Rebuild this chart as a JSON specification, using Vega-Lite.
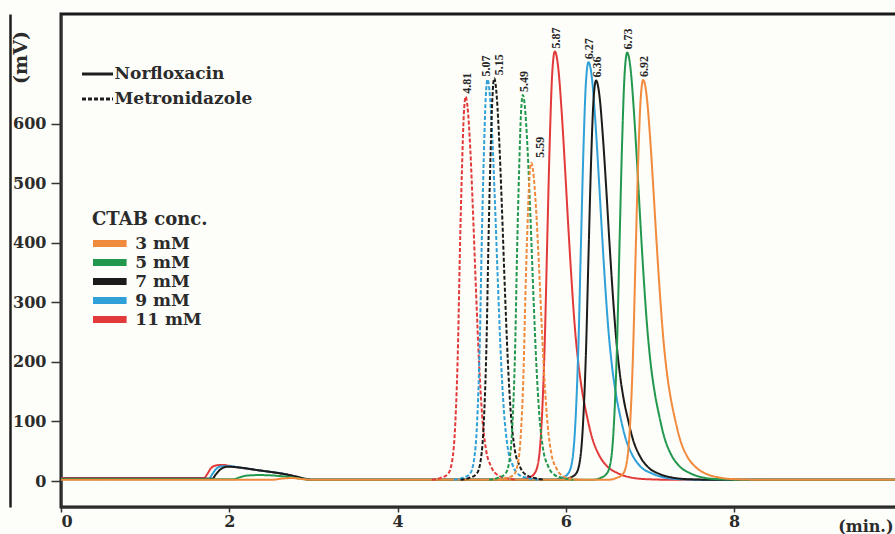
{
  "$schema": "https://vega.github.io/schema/vega-lite/v6.json",
  "width": 836,
  "height": 493,
  "autosize": {"type": "none"},
  "padding": {"left": 61, "top": 14, "right": 0, "bottom": 27},
  "background": "#fdfdf9",
  "datasets": {
    "curves": [
      {"drug": "Norfloxacin", "conc": "11 mM", "t": 0, "mV": 5},
      {"drug": "Norfloxacin", "conc": "11 mM", "t": 1.70, "mV": 5},
      {"drug": "Norfloxacin", "conc": "11 mM", "t": 1.74, "mV": 12},
      {"drug": "Norfloxacin", "conc": "11 mM", "t": 1.78, "mV": 21},
      {"drug": "Norfloxacin", "conc": "11 mM", "t": 1.84, "mV": 26},
      {"drug": "Norfloxacin", "conc": "11 mM", "t": 1.92, "mV": 27},
      {"drug": "Norfloxacin", "conc": "11 mM", "t": 2.05, "mV": 24},
      {"drug": "Norfloxacin", "conc": "11 mM", "t": 2.30, "mV": 19},
      {"drug": "Norfloxacin", "conc": "11 mM", "t": 2.55, "mV": 14},
      {"drug": "Norfloxacin", "conc": "11 mM", "t": 2.72, "mV": 10},
      {"drug": "Norfloxacin", "conc": "11 mM", "t": 2.85, "mV": 5},
      {"drug": "Norfloxacin", "conc": "11 mM", "t": 2.95, "mV": 2},
      {"drug": "Norfloxacin", "conc": "11 mM", "t": 5.45, "mV": 2},
      {"drug": "Norfloxacin", "conc": "11 mM", "t": 5.55, "mV": 5},
      {"drug": "Norfloxacin", "conc": "11 mM", "t": 5.63, "mV": 13},
      {"drug": "Norfloxacin", "conc": "11 mM", "t": 5.68, "mV": 38},
      {"drug": "Norfloxacin", "conc": "11 mM", "t": 5.715, "mV": 103},
      {"drug": "Norfloxacin", "conc": "11 mM", "t": 5.75, "mV": 233},
      {"drug": "Norfloxacin", "conc": "11 mM", "t": 5.78, "mV": 406},
      {"drug": "Norfloxacin", "conc": "11 mM", "t": 5.81, "mV": 572},
      {"drug": "Norfloxacin", "conc": "11 mM", "t": 5.84, "mV": 687},
      {"drug": "Norfloxacin", "conc": "11 mM", "t": 5.87, "mV": 721},
      {"drug": "Norfloxacin", "conc": "11 mM", "t": 5.91, "mV": 694},
      {"drug": "Norfloxacin", "conc": "11 mM", "t": 5.95, "mV": 622},
      {"drug": "Norfloxacin", "conc": "11 mM", "t": 5.99, "mV": 528},
      {"drug": "Norfloxacin", "conc": "11 mM", "t": 6.03, "mV": 427},
      {"drug": "Norfloxacin", "conc": "11 mM", "t": 6.07, "mV": 334},
      {"drug": "Norfloxacin", "conc": "11 mM", "t": 6.11, "mV": 254},
      {"drug": "Norfloxacin", "conc": "11 mM", "t": 6.15, "mV": 197},
      {"drug": "Norfloxacin", "conc": "11 mM", "t": 6.20, "mV": 146},
      {"drug": "Norfloxacin", "conc": "11 mM", "t": 6.25, "mV": 110},
      {"drug": "Norfloxacin", "conc": "11 mM", "t": 6.31, "mV": 74},
      {"drug": "Norfloxacin", "conc": "11 mM", "t": 6.39, "mV": 45},
      {"drug": "Norfloxacin", "conc": "11 mM", "t": 6.49, "mV": 25},
      {"drug": "Norfloxacin", "conc": "11 mM", "t": 6.62, "mV": 13},
      {"drug": "Norfloxacin", "conc": "11 mM", "t": 6.77, "mV": 6},
      {"drug": "Norfloxacin", "conc": "11 mM", "t": 6.97, "mV": 3},
      {"drug": "Norfloxacin", "conc": "11 mM", "t": 7.30, "mV": 2},
      {"drug": "Norfloxacin", "conc": "11 mM", "t": 9.94, "mV": 2},

      {"drug": "Norfloxacin", "conc": "9 mM", "t": 0, "mV": 4},
      {"drug": "Norfloxacin", "conc": "9 mM", "t": 1.76, "mV": 4},
      {"drug": "Norfloxacin", "conc": "9 mM", "t": 1.80, "mV": 12},
      {"drug": "Norfloxacin", "conc": "9 mM", "t": 1.85, "mV": 21},
      {"drug": "Norfloxacin", "conc": "9 mM", "t": 1.92, "mV": 25},
      {"drug": "Norfloxacin", "conc": "9 mM", "t": 2.00, "mV": 25},
      {"drug": "Norfloxacin", "conc": "9 mM", "t": 2.15, "mV": 22},
      {"drug": "Norfloxacin", "conc": "9 mM", "t": 2.40, "mV": 17},
      {"drug": "Norfloxacin", "conc": "9 mM", "t": 2.65, "mV": 12},
      {"drug": "Norfloxacin", "conc": "9 mM", "t": 2.80, "mV": 7},
      {"drug": "Norfloxacin", "conc": "9 mM", "t": 2.92, "mV": 3},
      {"drug": "Norfloxacin", "conc": "9 mM", "t": 3.05, "mV": 2},
      {"drug": "Norfloxacin", "conc": "9 mM", "t": 5.85, "mV": 2},
      {"drug": "Norfloxacin", "conc": "9 mM", "t": 5.95, "mV": 5},
      {"drug": "Norfloxacin", "conc": "9 mM", "t": 6.03, "mV": 13},
      {"drug": "Norfloxacin", "conc": "9 mM", "t": 6.08, "mV": 37},
      {"drug": "Norfloxacin", "conc": "9 mM", "t": 6.115, "mV": 100},
      {"drug": "Norfloxacin", "conc": "9 mM", "t": 6.15, "mV": 227},
      {"drug": "Norfloxacin", "conc": "9 mM", "t": 6.18, "mV": 396},
      {"drug": "Norfloxacin", "conc": "9 mM", "t": 6.21, "mV": 557},
      {"drug": "Norfloxacin", "conc": "9 mM", "t": 6.24, "mV": 670},
      {"drug": "Norfloxacin", "conc": "9 mM", "t": 6.27, "mV": 703},
      {"drug": "Norfloxacin", "conc": "9 mM", "t": 6.31, "mV": 677},
      {"drug": "Norfloxacin", "conc": "9 mM", "t": 6.35, "mV": 607},
      {"drug": "Norfloxacin", "conc": "9 mM", "t": 6.39, "mV": 515},
      {"drug": "Norfloxacin", "conc": "9 mM", "t": 6.43, "mV": 417},
      {"drug": "Norfloxacin", "conc": "9 mM", "t": 6.47, "mV": 325},
      {"drug": "Norfloxacin", "conc": "9 mM", "t": 6.51, "mV": 248},
      {"drug": "Norfloxacin", "conc": "9 mM", "t": 6.55, "mV": 192},
      {"drug": "Norfloxacin", "conc": "9 mM", "t": 6.60, "mV": 143},
      {"drug": "Norfloxacin", "conc": "9 mM", "t": 6.65, "mV": 107},
      {"drug": "Norfloxacin", "conc": "9 mM", "t": 6.71, "mV": 72},
      {"drug": "Norfloxacin", "conc": "9 mM", "t": 6.79, "mV": 44},
      {"drug": "Norfloxacin", "conc": "9 mM", "t": 6.89, "mV": 24},
      {"drug": "Norfloxacin", "conc": "9 mM", "t": 7.02, "mV": 13},
      {"drug": "Norfloxacin", "conc": "9 mM", "t": 7.17, "mV": 6},
      {"drug": "Norfloxacin", "conc": "9 mM", "t": 7.37, "mV": 3},
      {"drug": "Norfloxacin", "conc": "9 mM", "t": 7.70, "mV": 2},
      {"drug": "Norfloxacin", "conc": "9 mM", "t": 9.94, "mV": 2},

      {"drug": "Norfloxacin", "conc": "7 mM", "t": 0, "mV": 4},
      {"drug": "Norfloxacin", "conc": "7 mM", "t": 1.80, "mV": 4},
      {"drug": "Norfloxacin", "conc": "7 mM", "t": 1.84, "mV": 11},
      {"drug": "Norfloxacin", "conc": "7 mM", "t": 1.90, "mV": 20},
      {"drug": "Norfloxacin", "conc": "7 mM", "t": 1.98, "mV": 24},
      {"drug": "Norfloxacin", "conc": "7 mM", "t": 2.10, "mV": 23},
      {"drug": "Norfloxacin", "conc": "7 mM", "t": 2.35, "mV": 18},
      {"drug": "Norfloxacin", "conc": "7 mM", "t": 2.60, "mV": 13},
      {"drug": "Norfloxacin", "conc": "7 mM", "t": 2.78, "mV": 8},
      {"drug": "Norfloxacin", "conc": "7 mM", "t": 2.90, "mV": 4},
      {"drug": "Norfloxacin", "conc": "7 mM", "t": 3.00, "mV": 2},
      {"drug": "Norfloxacin", "conc": "7 mM", "t": 5.94, "mV": 2},
      {"drug": "Norfloxacin", "conc": "7 mM", "t": 6.04, "mV": 5},
      {"drug": "Norfloxacin", "conc": "7 mM", "t": 6.12, "mV": 12},
      {"drug": "Norfloxacin", "conc": "7 mM", "t": 6.17, "mV": 36},
      {"drug": "Norfloxacin", "conc": "7 mM", "t": 6.205, "mV": 96},
      {"drug": "Norfloxacin", "conc": "7 mM", "t": 6.24, "mV": 217},
      {"drug": "Norfloxacin", "conc": "7 mM", "t": 6.27, "mV": 378},
      {"drug": "Norfloxacin", "conc": "7 mM", "t": 6.30, "mV": 533},
      {"drug": "Norfloxacin", "conc": "7 mM", "t": 6.33, "mV": 640},
      {"drug": "Norfloxacin", "conc": "7 mM", "t": 6.36, "mV": 672},
      {"drug": "Norfloxacin", "conc": "7 mM", "t": 6.40, "mV": 647},
      {"drug": "Norfloxacin", "conc": "7 mM", "t": 6.44, "mV": 580},
      {"drug": "Norfloxacin", "conc": "7 mM", "t": 6.48, "mV": 493},
      {"drug": "Norfloxacin", "conc": "7 mM", "t": 6.52, "mV": 398},
      {"drug": "Norfloxacin", "conc": "7 mM", "t": 6.56, "mV": 311},
      {"drug": "Norfloxacin", "conc": "7 mM", "t": 6.60, "mV": 237},
      {"drug": "Norfloxacin", "conc": "7 mM", "t": 6.64, "mV": 183},
      {"drug": "Norfloxacin", "conc": "7 mM", "t": 6.69, "mV": 136},
      {"drug": "Norfloxacin", "conc": "7 mM", "t": 6.74, "mV": 103},
      {"drug": "Norfloxacin", "conc": "7 mM", "t": 6.80, "mV": 69},
      {"drug": "Norfloxacin", "conc": "7 mM", "t": 6.88, "mV": 42},
      {"drug": "Norfloxacin", "conc": "7 mM", "t": 6.98, "mV": 23},
      {"drug": "Norfloxacin", "conc": "7 mM", "t": 7.11, "mV": 12},
      {"drug": "Norfloxacin", "conc": "7 mM", "t": 7.26, "mV": 6},
      {"drug": "Norfloxacin", "conc": "7 mM", "t": 7.46, "mV": 3},
      {"drug": "Norfloxacin", "conc": "7 mM", "t": 7.80, "mV": 2},
      {"drug": "Norfloxacin", "conc": "7 mM", "t": 9.94, "mV": 2},

      {"drug": "Norfloxacin", "conc": "5 mM", "t": 0, "mV": 3},
      {"drug": "Norfloxacin", "conc": "5 mM", "t": 2.05, "mV": 3},
      {"drug": "Norfloxacin", "conc": "5 mM", "t": 2.12, "mV": 6},
      {"drug": "Norfloxacin", "conc": "5 mM", "t": 2.20, "mV": 9},
      {"drug": "Norfloxacin", "conc": "5 mM", "t": 2.35, "mV": 10},
      {"drug": "Norfloxacin", "conc": "5 mM", "t": 2.55, "mV": 9},
      {"drug": "Norfloxacin", "conc": "5 mM", "t": 2.75, "mV": 6},
      {"drug": "Norfloxacin", "conc": "5 mM", "t": 2.90, "mV": 3},
      {"drug": "Norfloxacin", "conc": "5 mM", "t": 3.00, "mV": 2},
      {"drug": "Norfloxacin", "conc": "5 mM", "t": 6.31, "mV": 2},
      {"drug": "Norfloxacin", "conc": "5 mM", "t": 6.41, "mV": 5},
      {"drug": "Norfloxacin", "conc": "5 mM", "t": 6.49, "mV": 13},
      {"drug": "Norfloxacin", "conc": "5 mM", "t": 6.54, "mV": 38},
      {"drug": "Norfloxacin", "conc": "5 mM", "t": 6.575, "mV": 103},
      {"drug": "Norfloxacin", "conc": "5 mM", "t": 6.61, "mV": 232},
      {"drug": "Norfloxacin", "conc": "5 mM", "t": 6.64, "mV": 405},
      {"drug": "Norfloxacin", "conc": "5 mM", "t": 6.67, "mV": 570},
      {"drug": "Norfloxacin", "conc": "5 mM", "t": 6.70, "mV": 685},
      {"drug": "Norfloxacin", "conc": "5 mM", "t": 6.73, "mV": 719},
      {"drug": "Norfloxacin", "conc": "5 mM", "t": 6.77, "mV": 692},
      {"drug": "Norfloxacin", "conc": "5 mM", "t": 6.81, "mV": 620},
      {"drug": "Norfloxacin", "conc": "5 mM", "t": 6.85, "mV": 527},
      {"drug": "Norfloxacin", "conc": "5 mM", "t": 6.89, "mV": 426},
      {"drug": "Norfloxacin", "conc": "5 mM", "t": 6.93, "mV": 333},
      {"drug": "Norfloxacin", "conc": "5 mM", "t": 6.97, "mV": 254},
      {"drug": "Norfloxacin", "conc": "5 mM", "t": 7.01, "mV": 196},
      {"drug": "Norfloxacin", "conc": "5 mM", "t": 7.06, "mV": 146},
      {"drug": "Norfloxacin", "conc": "5 mM", "t": 7.11, "mV": 110},
      {"drug": "Norfloxacin", "conc": "5 mM", "t": 7.17, "mV": 74},
      {"drug": "Norfloxacin", "conc": "5 mM", "t": 7.25, "mV": 45},
      {"drug": "Norfloxacin", "conc": "5 mM", "t": 7.35, "mV": 25},
      {"drug": "Norfloxacin", "conc": "5 mM", "t": 7.48, "mV": 13},
      {"drug": "Norfloxacin", "conc": "5 mM", "t": 7.63, "mV": 6},
      {"drug": "Norfloxacin", "conc": "5 mM", "t": 7.83, "mV": 3},
      {"drug": "Norfloxacin", "conc": "5 mM", "t": 8.20, "mV": 2},
      {"drug": "Norfloxacin", "conc": "5 mM", "t": 9.94, "mV": 2},

      {"drug": "Norfloxacin", "conc": "3 mM", "t": 0, "mV": 2},
      {"drug": "Norfloxacin", "conc": "3 mM", "t": 2.50, "mV": 2},
      {"drug": "Norfloxacin", "conc": "3 mM", "t": 2.62, "mV": 4},
      {"drug": "Norfloxacin", "conc": "3 mM", "t": 2.75, "mV": 5},
      {"drug": "Norfloxacin", "conc": "3 mM", "t": 2.88, "mV": 3},
      {"drug": "Norfloxacin", "conc": "3 mM", "t": 3.00, "mV": 2},
      {"drug": "Norfloxacin", "conc": "3 mM", "t": 6.50, "mV": 2},
      {"drug": "Norfloxacin", "conc": "3 mM", "t": 6.60, "mV": 5},
      {"drug": "Norfloxacin", "conc": "3 mM", "t": 6.68, "mV": 12},
      {"drug": "Norfloxacin", "conc": "3 mM", "t": 6.73, "mV": 36},
      {"drug": "Norfloxacin", "conc": "3 mM", "t": 6.765, "mV": 96},
      {"drug": "Norfloxacin", "conc": "3 mM", "t": 6.80, "mV": 217},
      {"drug": "Norfloxacin", "conc": "3 mM", "t": 6.83, "mV": 379},
      {"drug": "Norfloxacin", "conc": "3 mM", "t": 6.86, "mV": 534},
      {"drug": "Norfloxacin", "conc": "3 mM", "t": 6.89, "mV": 641},
      {"drug": "Norfloxacin", "conc": "3 mM", "t": 6.92, "mV": 673},
      {"drug": "Norfloxacin", "conc": "3 mM", "t": 6.96, "mV": 648},
      {"drug": "Norfloxacin", "conc": "3 mM", "t": 7.00, "mV": 581},
      {"drug": "Norfloxacin", "conc": "3 mM", "t": 7.04, "mV": 493},
      {"drug": "Norfloxacin", "conc": "3 mM", "t": 7.08, "mV": 399},
      {"drug": "Norfloxacin", "conc": "3 mM", "t": 7.12, "mV": 312},
      {"drug": "Norfloxacin", "conc": "3 mM", "t": 7.16, "mV": 238},
      {"drug": "Norfloxacin", "conc": "3 mM", "t": 7.20, "mV": 184},
      {"drug": "Norfloxacin", "conc": "3 mM", "t": 7.25, "mV": 137},
      {"drug": "Norfloxacin", "conc": "3 mM", "t": 7.30, "mV": 103},
      {"drug": "Norfloxacin", "conc": "3 mM", "t": 7.36, "mV": 69},
      {"drug": "Norfloxacin", "conc": "3 mM", "t": 7.44, "mV": 42},
      {"drug": "Norfloxacin", "conc": "3 mM", "t": 7.54, "mV": 24},
      {"drug": "Norfloxacin", "conc": "3 mM", "t": 7.67, "mV": 12},
      {"drug": "Norfloxacin", "conc": "3 mM", "t": 7.82, "mV": 6},
      {"drug": "Norfloxacin", "conc": "3 mM", "t": 8.02, "mV": 3},
      {"drug": "Norfloxacin", "conc": "3 mM", "t": 8.40, "mV": 2},
      {"drug": "Norfloxacin", "conc": "3 mM", "t": 9.94, "mV": 2},

      {"drug": "Metronidazole", "conc": "11 mM", "t": 4.41, "mV": 2},
      {"drug": "Metronidazole", "conc": "11 mM", "t": 4.51, "mV": 5},
      {"drug": "Metronidazole", "conc": "11 mM", "t": 4.60, "mV": 12},
      {"drug": "Metronidazole", "conc": "11 mM", "t": 4.65, "mV": 34},
      {"drug": "Metronidazole", "conc": "11 mM", "t": 4.685, "mV": 92},
      {"drug": "Metronidazole", "conc": "11 mM", "t": 4.72, "mV": 234},
      {"drug": "Metronidazole", "conc": "11 mM", "t": 4.74, "mV": 376},
      {"drug": "Metronidazole", "conc": "11 mM", "t": 4.765, "mV": 518},
      {"drug": "Metronidazole", "conc": "11 mM", "t": 4.788, "mV": 615},
      {"drug": "Metronidazole", "conc": "11 mM", "t": 4.81, "mV": 645},
      {"drug": "Metronidazole", "conc": "11 mM", "t": 4.832, "mV": 628},
      {"drug": "Metronidazole", "conc": "11 mM", "t": 4.865, "mV": 557},
      {"drug": "Metronidazole", "conc": "11 mM", "t": 4.90, "mV": 441},
      {"drug": "Metronidazole", "conc": "11 mM", "t": 4.935, "mV": 312},
      {"drug": "Metronidazole", "conc": "11 mM", "t": 4.97, "mV": 196},
      {"drug": "Metronidazole", "conc": "11 mM", "t": 5.005, "mV": 112},
      {"drug": "Metronidazole", "conc": "11 mM", "t": 5.05, "mV": 54},
      {"drug": "Metronidazole", "conc": "11 mM", "t": 5.11, "mV": 25},
      {"drug": "Metronidazole", "conc": "11 mM", "t": 5.19, "mV": 10},
      {"drug": "Metronidazole", "conc": "11 mM", "t": 5.29, "mV": 5},
      {"drug": "Metronidazole", "conc": "11 mM", "t": 5.41, "mV": 2},

      {"drug": "Metronidazole", "conc": "9 mM", "t": 4.67, "mV": 2},
      {"drug": "Metronidazole", "conc": "9 mM", "t": 4.77, "mV": 5},
      {"drug": "Metronidazole", "conc": "9 mM", "t": 4.86, "mV": 12},
      {"drug": "Metronidazole", "conc": "9 mM", "t": 4.91, "mV": 36},
      {"drug": "Metronidazole", "conc": "9 mM", "t": 4.945, "mV": 96},
      {"drug": "Metronidazole", "conc": "9 mM", "t": 4.98, "mV": 245},
      {"drug": "Metronidazole", "conc": "9 mM", "t": 5.00, "mV": 393},
      {"drug": "Metronidazole", "conc": "9 mM", "t": 5.025, "mV": 541},
      {"drug": "Metronidazole", "conc": "9 mM", "t": 5.048, "mV": 642},
      {"drug": "Metronidazole", "conc": "9 mM", "t": 5.07, "mV": 674},
      {"drug": "Metronidazole", "conc": "9 mM", "t": 5.092, "mV": 656},
      {"drug": "Metronidazole", "conc": "9 mM", "t": 5.125, "mV": 582},
      {"drug": "Metronidazole", "conc": "9 mM", "t": 5.16, "mV": 460},
      {"drug": "Metronidazole", "conc": "9 mM", "t": 5.195, "mV": 326},
      {"drug": "Metronidazole", "conc": "9 mM", "t": 5.23, "mV": 204},
      {"drug": "Metronidazole", "conc": "9 mM", "t": 5.265, "mV": 117},
      {"drug": "Metronidazole", "conc": "9 mM", "t": 5.31, "mV": 56},
      {"drug": "Metronidazole", "conc": "9 mM", "t": 5.37, "mV": 26},
      {"drug": "Metronidazole", "conc": "9 mM", "t": 5.45, "mV": 10},
      {"drug": "Metronidazole", "conc": "9 mM", "t": 5.55, "mV": 5},
      {"drug": "Metronidazole", "conc": "9 mM", "t": 5.67, "mV": 2},

      {"drug": "Metronidazole", "conc": "7 mM", "t": 4.75, "mV": 2},
      {"drug": "Metronidazole", "conc": "7 mM", "t": 4.85, "mV": 5},
      {"drug": "Metronidazole", "conc": "7 mM", "t": 4.94, "mV": 12},
      {"drug": "Metronidazole", "conc": "7 mM", "t": 4.99, "mV": 36},
      {"drug": "Metronidazole", "conc": "7 mM", "t": 5.025, "mV": 97},
      {"drug": "Metronidazole", "conc": "7 mM", "t": 5.06, "mV": 245},
      {"drug": "Metronidazole", "conc": "7 mM", "t": 5.08, "mV": 394},
      {"drug": "Metronidazole", "conc": "7 mM", "t": 5.105, "mV": 543},
      {"drug": "Metronidazole", "conc": "7 mM", "t": 5.128, "mV": 644},
      {"drug": "Metronidazole", "conc": "7 mM", "t": 5.15, "mV": 676},
      {"drug": "Metronidazole", "conc": "7 mM", "t": 5.172, "mV": 658},
      {"drug": "Metronidazole", "conc": "7 mM", "t": 5.205, "mV": 583},
      {"drug": "Metronidazole", "conc": "7 mM", "t": 5.24, "mV": 462},
      {"drug": "Metronidazole", "conc": "7 mM", "t": 5.275, "mV": 326},
      {"drug": "Metronidazole", "conc": "7 mM", "t": 5.31, "mV": 205},
      {"drug": "Metronidazole", "conc": "7 mM", "t": 5.345, "mV": 117},
      {"drug": "Metronidazole", "conc": "7 mM", "t": 5.39, "mV": 56},
      {"drug": "Metronidazole", "conc": "7 mM", "t": 5.45, "mV": 26},
      {"drug": "Metronidazole", "conc": "7 mM", "t": 5.53, "mV": 10},
      {"drug": "Metronidazole", "conc": "7 mM", "t": 5.63, "mV": 5},
      {"drug": "Metronidazole", "conc": "7 mM", "t": 5.75, "mV": 2},

      {"drug": "Metronidazole", "conc": "5 mM", "t": 5.09, "mV": 2},
      {"drug": "Metronidazole", "conc": "5 mM", "t": 5.19, "mV": 5},
      {"drug": "Metronidazole", "conc": "5 mM", "t": 5.28, "mV": 12},
      {"drug": "Metronidazole", "conc": "5 mM", "t": 5.33, "mV": 34},
      {"drug": "Metronidazole", "conc": "5 mM", "t": 5.365, "mV": 93},
      {"drug": "Metronidazole", "conc": "5 mM", "t": 5.40, "mV": 235},
      {"drug": "Metronidazole", "conc": "5 mM", "t": 5.42, "mV": 378},
      {"drug": "Metronidazole", "conc": "5 mM", "t": 5.445, "mV": 520},
      {"drug": "Metronidazole", "conc": "5 mM", "t": 5.468, "mV": 618},
      {"drug": "Metronidazole", "conc": "5 mM", "t": 5.49, "mV": 648},
      {"drug": "Metronidazole", "conc": "5 mM", "t": 5.512, "mV": 631},
      {"drug": "Metronidazole", "conc": "5 mM", "t": 5.545, "mV": 559},
      {"drug": "Metronidazole", "conc": "5 mM", "t": 5.58, "mV": 443},
      {"drug": "Metronidazole", "conc": "5 mM", "t": 5.615, "mV": 313},
      {"drug": "Metronidazole", "conc": "5 mM", "t": 5.65, "mV": 196},
      {"drug": "Metronidazole", "conc": "5 mM", "t": 5.685, "mV": 112},
      {"drug": "Metronidazole", "conc": "5 mM", "t": 5.73, "mV": 54},
      {"drug": "Metronidazole", "conc": "5 mM", "t": 5.79, "mV": 25},
      {"drug": "Metronidazole", "conc": "5 mM", "t": 5.87, "mV": 10},
      {"drug": "Metronidazole", "conc": "5 mM", "t": 5.97, "mV": 5},
      {"drug": "Metronidazole", "conc": "5 mM", "t": 6.09, "mV": 2},

      {"drug": "Metronidazole", "conc": "3 mM", "t": 5.19, "mV": 2},
      {"drug": "Metronidazole", "conc": "3 mM", "t": 5.29, "mV": 5},
      {"drug": "Metronidazole", "conc": "3 mM", "t": 5.38, "mV": 10},
      {"drug": "Metronidazole", "conc": "3 mM", "t": 5.43, "mV": 29},
      {"drug": "Metronidazole", "conc": "3 mM", "t": 5.465, "mV": 77},
      {"drug": "Metronidazole", "conc": "3 mM", "t": 5.50, "mV": 194},
      {"drug": "Metronidazole", "conc": "3 mM", "t": 5.52, "mV": 312},
      {"drug": "Metronidazole", "conc": "3 mM", "t": 5.545, "mV": 429},
      {"drug": "Metronidazole", "conc": "3 mM", "t": 5.568, "mV": 509},
      {"drug": "Metronidazole", "conc": "3 mM", "t": 5.59, "mV": 534},
      {"drug": "Metronidazole", "conc": "3 mM", "t": 5.612, "mV": 520},
      {"drug": "Metronidazole", "conc": "3 mM", "t": 5.645, "mV": 461},
      {"drug": "Metronidazole", "conc": "3 mM", "t": 5.68, "mV": 365},
      {"drug": "Metronidazole", "conc": "3 mM", "t": 5.715, "mV": 258},
      {"drug": "Metronidazole", "conc": "3 mM", "t": 5.75, "mV": 162},
      {"drug": "Metronidazole", "conc": "3 mM", "t": 5.785, "mV": 93},
      {"drug": "Metronidazole", "conc": "3 mM", "t": 5.83, "mV": 45},
      {"drug": "Metronidazole", "conc": "3 mM", "t": 5.89, "mV": 21},
      {"drug": "Metronidazole", "conc": "3 mM", "t": 5.97, "mV": 8},
      {"drug": "Metronidazole", "conc": "3 mM", "t": 6.07, "mV": 4},
      {"drug": "Metronidazole", "conc": "3 mM", "t": 6.19, "mV": 2}
    ],
    "peaks": [
      {"drug": "Metronidazole", "conc": "11 mM", "t": 4.81, "mV": 645},
      {"drug": "Metronidazole", "conc": "9 mM", "t": 5.07, "mV": 674},
      {"drug": "Metronidazole", "conc": "7 mM", "t": 5.15, "mV": 676},
      {"drug": "Metronidazole", "conc": "5 mM", "t": 5.49, "mV": 648},
      {"drug": "Metronidazole", "conc": "3 mM", "t": 5.59, "mV": 534},
      {"drug": "Norfloxacin", "conc": "11 mM", "t": 5.87, "mV": 721},
      {"drug": "Norfloxacin", "conc": "9 mM", "t": 6.27, "mV": 703},
      {"drug": "Norfloxacin", "conc": "7 mM", "t": 6.36, "mV": 672},
      {"drug": "Norfloxacin", "conc": "5 mM", "t": 6.73, "mV": 719},
      {"drug": "Norfloxacin", "conc": "3 mM", "t": 6.92, "mV": 673}
    ]
  },
  "encoding": {
    "x": {
      "field": "t",
      "type": "quantitative",
      "scale": {"domain": [0, 9.937], "nice": false, "zero": false},
      "axis": {
        "values": [0, 2, 4, 6, 8],
        "tickSize": 5,
        "labelPadding": 1,
        "title": "(min.)",
        "titleX": 832,
        "titleY": 24,
        "titleAlign": "right",
        "titleAnchor": null,
        "titleBaseline": "alphabetic",
        "titleFontSize": 16
      }
    },
    "y": {
      "field": "mV",
      "type": "quantitative",
      "scale": {"domain": [-43.6, 783.8], "nice": false, "zero": false}
    }
  },
  "layer": [
    {
      "data": {"name": "curves"},
      "mark": {"type": "line", "interpolate": "monotone", "strokeWidth": 2, "clip": true},
      "encoding": {
        "y": {
          "field": "mV",
          "type": "quantitative",
          "axis": {
            "values": [0, 100, 200, 300, 400, 500, 600],
            "tickSize": 10,
            "labelPadding": 5,
            "title": "(mV)",
            "titleX": -41,
            "titleY": 43,
            "titleAngle": 270,
            "titleAlign": "center",
            "titleBaseline": "middle",
            "titleAnchor": null,
            "titleFontSize": 19
          }
        },
        "color": {
          "field": "conc",
          "type": "nominal",
          "scale": {
            "domain": ["3 mM", "5 mM", "7 mM", "9 mM", "11 mM"],
            "range": ["#f08a3c", "#22984e", "#1b1b1b", "#2fa0d8", "#e23a3a"]
          },
          "legend": {
            "title": "CTAB conc.",
            "orient": "none",
            "legendX": 31,
            "legendY": 197,
            "symbolType": "M-2.8,0H2.8",
            "symbolSize": 144,
            "symbolStrokeWidth": 7,
            "symbolOffset": 8.3,
            "labelOffset": 16,
            "clipHeight": 19,
            "rowPadding": -0.25,
            "titlePadding": 5,
            "titleFontSize": 18
          }
        },
        "strokeDash": {
          "field": "drug",
          "type": "nominal",
          "scale": {
            "domain": ["Norfloxacin", "Metronidazole"],
            "range": [[1, 0], [4, 2]]
          },
          "legend": {
            "title": null,
            "orient": "none",
            "legendX": 19.5,
            "legendY": 43,
            "symbolType": "stroke",
            "symbolSize": 961,
            "symbolStrokeWidth": 3,
            "symbolStrokeColor": "#1e1e1e",
            "labelOffset": 0,
            "rowPadding": -9
          }
        }
      }
    },
    {
      "data": {"name": "peaks"},
      "transform": [{"filter": "datum.t != 5.59 && datum.t != 5.07 && datum.t != 5.15"}],
      "mark": {
        "type": "text",
        "angle": 270,
        "align": "left",
        "baseline": "middle",
        "dx": 3,
        "dy": 1,
        "font": "Liberation Serif",
        "fontWeight": "bold",
        "fontSize": 12,
        "color": "#262626"
      },
      "encoding": {
        "y": {
          "field": "mV",
          "type": "quantitative",
          "axis": {
            "orient": "left",
            "offset": 51,
            "labels": false,
            "ticks": false,
            "title": null,
            "domainColor": "#1e1e1e",
            "domainWidth": 2.5
          }
        },
        "text": {"field": "t", "type": "quantitative", "format": ".2f"}
      }
    },
    {
      "data": {"name": "peaks"},
      "transform": [{"filter": "datum.t == 5.07"}],
      "mark": {
        "type": "text",
        "angle": 270,
        "align": "left",
        "baseline": "middle",
        "dx": 3,
        "dy": -2,
        "font": "Liberation Serif",
        "fontWeight": "bold",
        "fontSize": 12,
        "color": "#262626"
      },
      "encoding": {
        "y": {"field": "mV", "type": "quantitative", "axis": null},
        "text": {"field": "t", "type": "quantitative", "format": ".2f"}
      }
    },
    {
      "data": {"name": "peaks"},
      "transform": [{"filter": "datum.t == 5.15"}],
      "mark": {
        "type": "text",
        "angle": 270,
        "align": "left",
        "baseline": "middle",
        "dx": 3,
        "dy": 5,
        "font": "Liberation Serif",
        "fontWeight": "bold",
        "fontSize": 12,
        "color": "#262626"
      },
      "encoding": {
        "y": {"field": "mV", "type": "quantitative", "axis": null},
        "text": {"field": "t", "type": "quantitative", "format": ".2f"}
      }
    },
    {
      "data": {"name": "peaks"},
      "transform": [{"filter": "datum.t == 5.59"}],
      "mark": {
        "type": "text",
        "angle": 270,
        "align": "left",
        "baseline": "middle",
        "dx": 5,
        "dy": 9,
        "font": "Liberation Serif",
        "fontWeight": "bold",
        "fontSize": 12,
        "color": "#262626"
      },
      "encoding": {
        "y": {"field": "mV", "type": "quantitative", "axis": null},
        "text": {"field": "t", "type": "quantitative", "format": ".2f"}
      }
    }
  ],
  "resolve": {"axis": {"y": "independent"}},
  "config": {
    "view": {"stroke": "#1a1a1a", "strokeWidth": 3},
    "axis": {
      "grid": false,
      "labelFont": "DejaVu Serif",
      "labelFontWeight": "bold",
      "labelFontSize": 16,
      "labelColor": "#2b2b2b",
      "titleFont": "DejaVu Serif",
      "titleFontWeight": "bold",
      "titleColor": "#2b2b2b",
      "domainColor": "#333333",
      "domainWidth": 2,
      "tickColor": "#333333",
      "tickWidth": 1.5
    },
    "legend": {
      "padding": 0,
      "labelFont": "DejaVu Serif",
      "labelFontWeight": "bold",
      "labelFontSize": 17,
      "labelColor": "#2b2b2b",
      "titleFont": "DejaVu Serif",
      "titleFontWeight": "bold",
      "titleColor": "#2b2b2b",
      "labelLimit": 300
    }
  }
}
